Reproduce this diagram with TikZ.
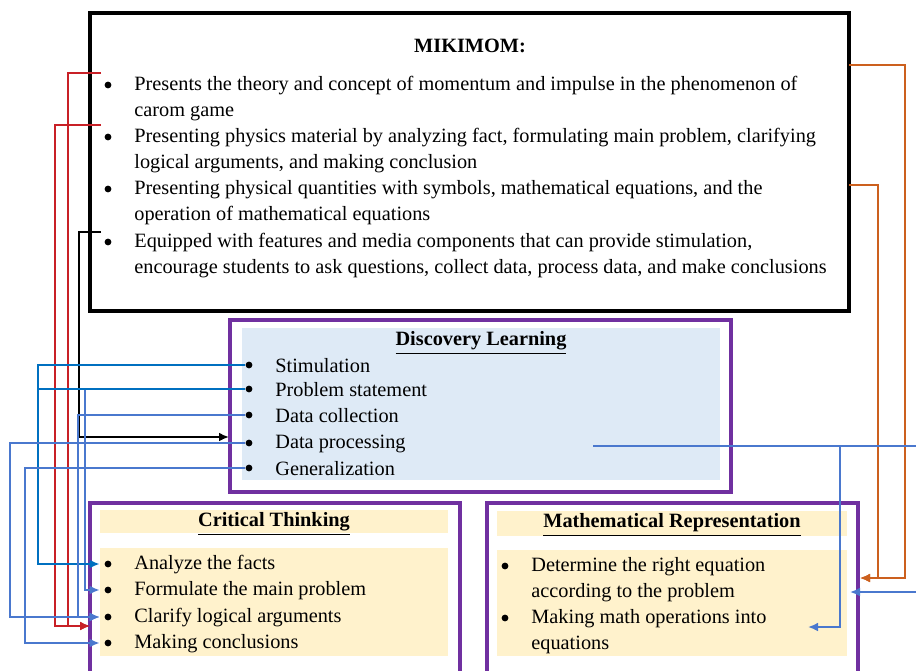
\documentclass[tikz,border=0pt]{standalone}
\usepackage{fontspec}
\setmainfont{Liberation Serif}
\usetikzlibrary{positioning,arrows.meta}

\definecolor{linkred}{RGB}{200,32,38}
\definecolor{linkblue}{RGB}{0,112,192}
\definecolor{linklblue}{RGB}{74,120,206}
\definecolor{linkorange}{RGB}{204,96,30}
\definecolor{boxpurple}{RGB}{112,48,160}
\definecolor{dlfill}{RGB}{222,234,246}
\definecolor{thinkfill}{RGB}{255,242,204}

\tikzset{
  bul/.style={circle,fill=black,inner sep=0pt,minimum size=3.4pt},
  txt/.style={anchor=west,align=left,inner sep=0pt,font=\fontsize{10.15}{13}\selectfont},
  ttl/.style={inner sep=0pt,font=\fontsize{10.15}{13}\selectfont\bfseries},
  link/.style={line width=0.9pt,-{Latex[length=5pt,width=4.4pt]}},
  plain/.style={line width=0.9pt},
  purplebox/.style={draw=boxpurple,line width=1.6pt}
}

\begin{document}
\begin{tikzpicture}[x=0.5pt,y=-0.5pt]
  \clip (0,0) rectangle (916,670);

  % MIKIMOM box
  \draw[line width=1.6pt] (90,13) rectangle (849,311);
  \node[ttl] (mik) at (470,46) {MIKIMOM:};
  \node[bul] (mb1) at (108,85) {};
  \node[txt] (m1) at (134,99) {Presents the theory and concept of momentum and impulse in the phenomenon of\\carom game};
  \node[bul] (mb2) at (108,137) {};
  \node[txt] (m2) at (134,151) {Presenting physics material by analyzing fact, formulating main problem, clarifying\\logical arguments, and making conclusion};
  \node[bul] (mb3) at (108,189) {};
  \node[txt] (m3) at (134,203) {Presenting physical quantities with symbols, mathematical equations, and the\\operation of mathematical equations};
  \node[bul] (mb4) at (108,242) {};
  \node[txt] (m4) at (134,256) {Equipped with features and media components that can provide stimulation,\\encourage students to ask questions, collect data, process data, and make conclusions};

  % Discovery Learning box
  \draw[purplebox] (230,320) rectangle (731,492);
  \fill[dlfill] (242,328) rectangle (720,480);
  \node[ttl] (dl) at (481,343) {\underline{Discovery Learning}};
  \node[bul] (sb1) at (249,365) {};
  \node[txt] (s1) at (275,366) {Stimulation};
  \node[bul] (sb2) at (249,389) {};
  \node[txt] (s2) at (275,390) {Problem statement};
  \node[bul] (sb3) at (249,415) {};
  \node[txt] (s3) at (275,416) {Data collection};
  \node[bul] (sb4) at (249,443) {};
  \node[txt] (s4) at (275,444) {Data processing};
  \node[bul] (sb5) at (249,468) {};
  \node[txt] (s5) at (275,469) {Generalization};

  % Critical Thinking box
  \draw[purplebox] (90,503) rectangle (460,680);
  \fill[thinkfill] (100,510) rectangle (448,533);
  \fill[thinkfill] (100,548) rectangle (448,656);
  \node[ttl] (ct) at (274,524) {\underline{Critical Thinking}};
  \node[bul,outer sep=2.5pt] (cb1) at (108,564) {};
  \node[txt] (c1) at (134,565) {Analyze the facts};
  \node[bul,outer sep=2.5pt] (cb2) at (108,590) {};
  \node[txt] (c2) at (134,591) {Formulate the main problem};
  \node[bul,outer sep=2.5pt] (cb3) at (108,617) {};
  \node[txt] (c3) at (134,618) {Clarify logical arguments};
  \node[bul,outer sep=2.5pt] (cb4) at (108,643) {};
  \node[txt] (c4) at (134,644) {Making conclusions};

  % Mathematical Representation box
  \draw[purplebox] (487,503) rectangle (858,680);
  \fill[thinkfill] (497,511) rectangle (847,536);
  \fill[thinkfill] (497,550) rectangle (847,656);
  \node[ttl] (mr) at (672,525) {\underline{Mathematical Representation}};
  \node[bul] (rb1) at (505,566) {};
  \node[txt] (r1) at (531,580) {Determine the right equation\\according to the problem};
  \node[bul] (rb2) at (505,618) {};
  \node[txt] (r2) at (531,632) {Making math operations into\\equations};

  % free ends of the links
  \coordinate (red1) at (101,73);
  \coordinate (red2) at (101,125);
  \coordinate (blk) at (101,232);
  \coordinate (ctin) at (90,626);
  \coordinate (dlin) at (229,437);
  \coordinate (or1) at (849,65);
  \coordinate (or2) at (849,185);
  \coordinate (mrin) at (860,578);
  \coordinate (mrin2) at (850,592);
  \coordinate (dpr) at (593,446);
  \coordinate (mrin3) at (808,627);

  % MIKIMOM links
  \draw[link,linkred] (red1) -- (68,73) |- (ctin);
  \draw[link,linkred] (red2) -- (55,125) |- (ctin);
  \draw[link,black] (blk) -- (79,232) |- (dlin);
  \draw[link,linkorange] (or1) -- (905,65) |- (mrin);
  \draw[link,linkorange] (or2) -- (878,185) |- (mrin);

  % Discovery Learning links
  \draw[link,linklblue] (sb2) -- ++(-164,0) |- (cb2);
  \draw[plain,linkblue] (sb2) -- ++(-211,0);
  \draw[link,linkblue] (sb1) -- ++(-211,0) |- (cb1);
  \draw[link,linklblue] (sb3) -- ++(-171,0) |- (cb3);
  \draw[link,linklblue] (sb4) -- ++(-239,0) |- (cb3);
  \draw[link,linklblue] (sb5) -- ++(-224,0) |- (cb4);
  \draw[link,linklblue] (dpr) -- (840,446) |- (mrin3);
  \draw[link,linklblue] (dpr) -- (930,446) |- (mrin2);
\end{tikzpicture}
\end{document}
